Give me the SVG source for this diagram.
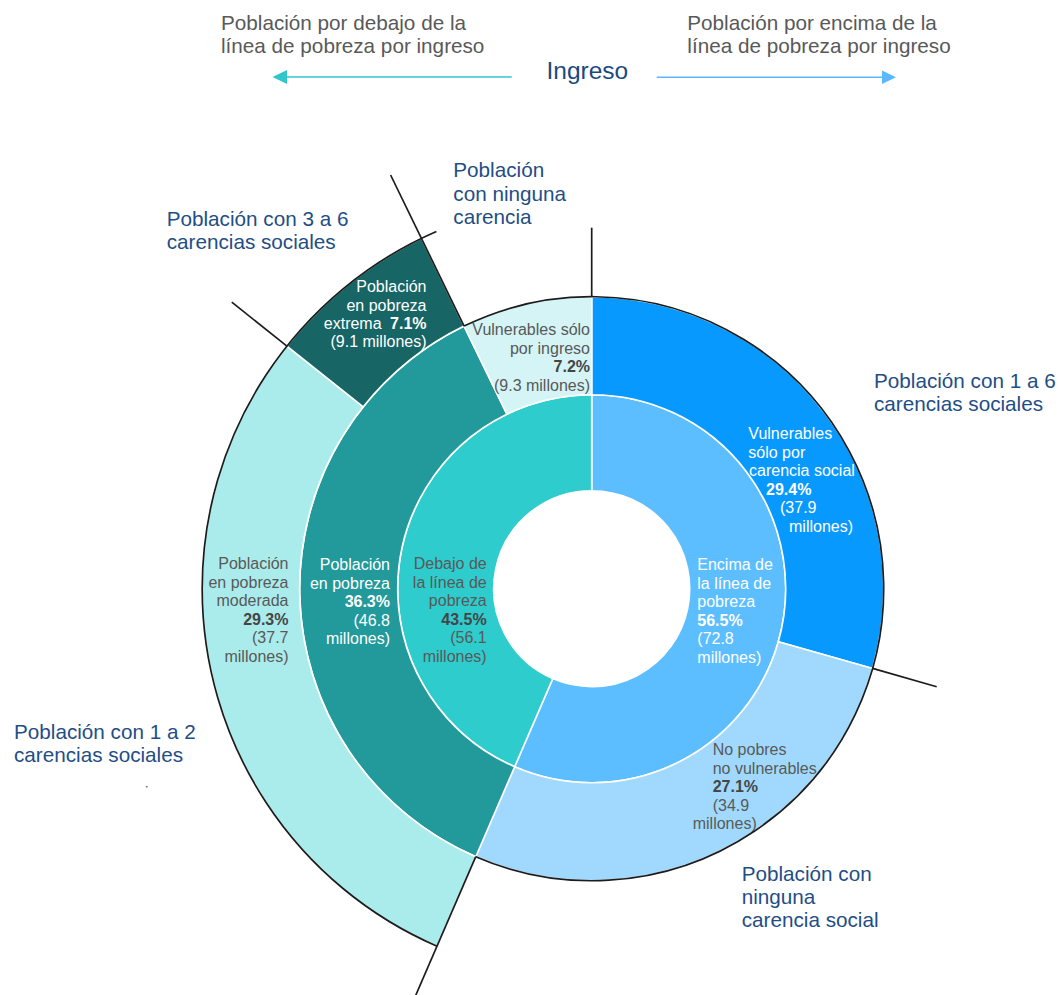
<svg xmlns="http://www.w3.org/2000/svg" width="1059" height="995" viewBox="0 0 1059 995">
<style>
text{font-family:"Liberation Sans",Arial,sans-serif;}
.seg{stroke:#ffffff;stroke-width:1.6;stroke-linejoin:round;}
.t{font-size:16px;}
.w{fill:#ffffff;}
.g{fill:#595959;}
.b{font-weight:bold;}
.gb{fill:#454545;font-weight:bold;}
.cat{font-size:20.7px;fill:#1F4E86;}
.top{font-size:20.7px;fill:#595959;}
.blk{fill:none;stroke:#1c1c1c;stroke-width:1.7;}
.e{text-anchor:end;}
</style>
<defs>
<marker id="mL" markerWidth="16" markerHeight="16" refX="1" refY="7" orient="auto-start-reverse" markerUnits="userSpaceOnUse">
<path d="M0,0 L14.5,7 L0,14 Z" fill="#2EC8CC"/>
</marker>
<marker id="mR" markerWidth="16" markerHeight="16" refX="1" refY="7" orient="auto" markerUnits="userSpaceOnUse">
<path d="M0,0 L14.5,7 L0,14 Z" fill="#5BB8FF"/>
</marker>
</defs>
<rect width="1059" height="995" fill="#ffffff"/>

<!-- header -->
<g id="header">
<text class="top" x="221" y="30">Población por debajo de la</text>
<text class="top" x="221" y="53.3">línea de pobreza por ingreso</text>
<text class="top" x="687.3" y="30">Población por encima de la</text>
<text class="top" x="687.3" y="53.3">línea de pobreza por ingreso</text>
<text x="546.5" y="78.5" style="font-size:24.5px;fill:#1A4A80">Ingreso</text>
</g>

<!-- inner ring -->
<g id="encima">
<path class="seg" fill="#5CBEFF" d="M591.7,394.7 A194,194 0 1 1 514.66,766.75 L552.78,678.64 A98,98 0 1 0 591.7,490.7 Z"/>
<text class="t w" x="697.3" y="570">Encima de</text>
<text class="t w" x="697.3" y="588.5">la línea de</text>
<text class="t w" x="697.3" y="607">pobreza</text>
<text class="t w b" x="697.3" y="625.5">56.5%</text>
<text class="t w" x="697.3" y="644">(72.8</text>
<text class="t w" x="697.3" y="662.5">millones)</text>
</g>
<g id="debajo">
<path class="seg" fill="#2ECCCC" d="M514.66,766.75 A194,194 0 0 1 591.7,394.7 L591.7,490.7 A98,98 0 0 0 552.78,678.64 Z"/>
<text class="t g e" x="486.7" y="569">Debajo de</text>
<text class="t g e" x="486.7" y="587.5">la línea de</text>
<text class="t g e" x="486.7" y="606">pobreza</text>
<text class="t gb e" x="486.7" y="624.5">43.5%</text>
<text class="t g e" x="486.7" y="643">(56.1</text>
<text class="t g e" x="486.7" y="661.5">millones)</text>
</g>

<!-- middle ring -->
<g id="vulnerables-carencia">
<path class="seg" fill="#0899FF" d="M591.7,296.7 A292,292 0 0 1 872.6,668.42 L778.33,641.66 A194,194 0 0 0 591.7,394.7 Z"/>
<text class="t w" x="748.3" y="439">Vulnerables</text>
<text class="t w" x="748.3" y="457.5">sólo por</text>
<text class="t w" x="749" y="476">carencia social</text>
<text class="t w b" x="766" y="494.5">29.4%</text>
<text class="t w" x="780" y="513">(37.9</text>
<text class="t w" x="789" y="531.5">millones)</text>
</g>
<g id="no-pobres">
<path class="seg" fill="#A0D9FD" d="M872.6,668.42 A292,292 0 0 1 475.75,856.7 L514.66,766.75 A194,194 0 0 0 778.33,641.66 Z"/>
<text class="t g" x="712.7" y="755">No pobres</text>
<text class="t g" x="712.7" y="773.5">no vulnerables</text>
<text class="t gb" x="712.7" y="792">27.1%</text>
<text class="t g" x="712.7" y="810.5">(34.9</text>
<text class="t g" x="692.7" y="829">millones)</text>
</g>
<g id="pobreza">
<path class="seg" fill="#22999A" d="M475.75,856.7 A292,292 0 0 1 464.07,326.08 L506.9,414.22 A194,194 0 0 0 514.66,766.75 Z"/>
<text class="t w e" x="390" y="570">Población</text>
<text class="t w e" x="390" y="588.5">en pobreza</text>
<text class="t w b e" x="390" y="607">36.3%</text>
<text class="t w e" x="390" y="625.5">(46.8</text>
<text class="t w e" x="390" y="644">millones)</text>
</g>
<g id="vulnerables-ingreso">
<path class="seg" fill="#D4F4F5" d="M464.07,326.08 A292,292 0 0 1 591.7,296.7 L591.7,394.7 A194,194 0 0 0 506.9,414.22 Z"/>
<text class="t g e" x="590" y="335">Vulnerables sólo</text>
<text class="t g e" x="590" y="353.5">por ingreso</text>
<text class="t gb e" x="590" y="372">7.2%</text>
<text class="t g e" x="590" y="390.5">(9.3 millones)</text>
</g>

<!-- outer ring -->
<g id="moderada">
<path class="seg" fill="#AAECEB" d="M437.03,946.18 A389.5,389.5 0 0 1 286.95,346.12 L363.24,406.84 A292,292 0 0 0 475.75,856.7 Z"/>
<text class="t g e" x="288.5" y="569">Población</text>
<text class="t g e" x="288.5" y="587.5">en pobreza</text>
<text class="t g e" x="288.5" y="606">moderada</text>
<text class="t gb e" x="288.5" y="624.5">29.3%</text>
<text class="t g e" x="288.5" y="643">(37.7</text>
<text class="t g e" x="288.5" y="661.5">millones)</text>
</g>
<g id="extrema">
<path class="seg" fill="#176565" d="M286.95,346.12 A389.5,389.5 0 0 1 421.45,238.38 L464.07,326.08 A292,292 0 0 0 363.24,406.84 Z"/>
<text class="t w e" x="426.5" y="291.7">Población</text>
<text class="t w e" x="426.5" y="310.5">en pobreza</text>
<text class="t w e" x="426.5" y="329">extrema <tspan class="b" dx="4">7.1%</tspan></text>
<text class="t w e" x="426.5" y="347">(9.1 millones)</text>
</g>

<!-- category labels -->
<g id="cat-3a6">
<text class="cat" x="166.7" y="226">Población con 3 a 6</text>
<text class="cat" x="166.7" y="249">carencias sociales</text>
</g>
<g id="cat-ninguna-top">
<text class="cat" x="453.3" y="177.3">Población</text>
<text class="cat" x="453.3" y="200.6">con ninguna</text>
<text class="cat" x="453.3" y="223.6">carencia</text>
</g>
<g id="cat-1a6">
<text class="cat" x="874" y="387.7">Población con 1 a 6</text>
<text class="cat" x="874" y="411">carencias sociales</text>
</g>
<g id="cat-1a2">
<text class="cat" x="14" y="739.3">Población con 1 a 2</text>
<text class="cat" x="14" y="761.7">carencias sociales</text>
<rect x="145.8" y="786" width="1.8" height="1.4" fill="#707070"/>
</g>
<g id="cat-ninguna-bottom">
<text class="cat" x="741.7" y="880.7">Población con</text>
<text class="cat" x="741.7" y="904">ninguna</text>
<text class="cat" x="741.7" y="927.3">carencia social</text>
</g>

<!-- connectors -->
<g id="connectors">
<path class="blk" d="M464.07,326.08 A292,292 0 1 1 475.75,856.7"/>
<path class="blk" d="M437.03,946.18 A389.5,389.5 0 0 1 436.4,231.49"/>
<line class="blk" x1="591.7" y1="227.7" x2="591.7" y2="296.7"/>
<line class="blk" x1="390.6" y1="175" x2="464.07" y2="326.08"/>
<line class="blk" x1="231.8" y1="302.2" x2="286.95" y2="346.12"/>
<line class="blk" x1="872.6" y1="668.42" x2="936.7" y2="686.7"/>
<line class="blk" x1="475.75" y1="856.7" x2="415" y2="997"/>
<line x1="511.7" y1="77" x2="286" y2="77" stroke="#2EC8CC" stroke-width="1.6" marker-end="url(#mL)"/>
<line x1="656.7" y1="77.3" x2="882.5" y2="77.3" stroke="#5BB8FF" stroke-width="1.6" marker-end="url(#mR)"/>
</g>
</svg>
